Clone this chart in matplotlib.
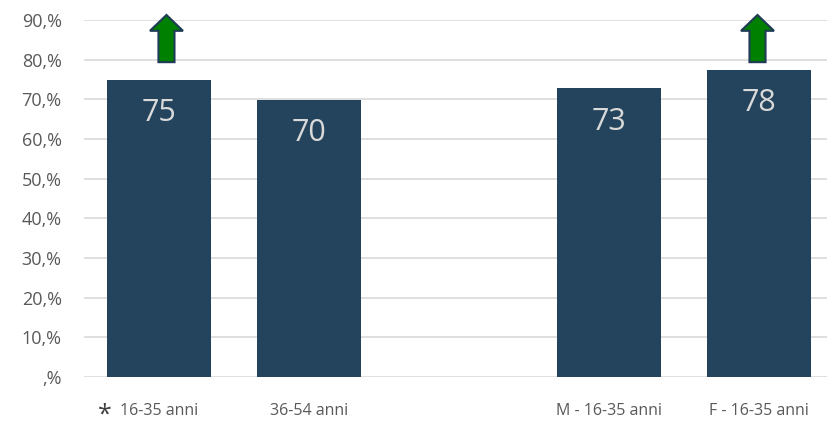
import matplotlib.pyplot as plt
from matplotlib.patches import FancyArrow

plt.rcParams['font.family'] = ['Open Sans', 'DejaVu Sans']

categories = ["16-35 anni", "36-54 anni", "M - 16-35 anni", "F - 16-35 anni"]
positions = [0, 1, 3, 4]
values = [74.9, 69.9, 72.8, 77.5]
labels = ["75", "70", "73", "78"]
arrow_on = [True, False, False, True]

bar_color = "#23445C"
fig = plt.figure(figsize=(8.28, 4.28), dpi=100)
ax = fig.add_axes([0.1014, 0.119, 0.8986, 0.834])

ax.bar(positions, values, width=0.69, color=bar_color, zorder=3)
for p, v, t in zip(positions, values, labels):
    ax.text(p, v - 4.6, t, ha="center", va="top", fontsize=22, color="#D9D9D9", zorder=4)

for p, on in zip(positions, arrow_on):
    if on:
        off = 0.05 if p == 0 else -0.01
        ax.add_patch(FancyArrow(p + off, 79.4, 0, 11.9, width=0.107, head_width=0.22,
                                head_length=4.0, length_includes_head=True,
                                facecolor="#008000", edgecolor="#1F3B55", linewidth=1.5,
                                clip_on=False, zorder=5))

ax.set_xlim(-0.5, 4.46)
ax.set_ylim(0, 90)
ax.set_yticks(range(0, 91, 10))
ax.set_yticklabels([f"{v},%" if v else ",%" for v in range(0, 91, 10)])
ax.set_xticks(positions)
ax.set_xticklabels(categories)
ax.tick_params(axis="y", length=0, labelsize=13, colors="#595959", pad=16)
ax.tick_params(axis="x", length=0, labelsize=11.5, colors="#595959", pad=19)
ax.grid(axis="y", color="#D9D9D9", linewidth=1.2, zorder=0)
for s in ax.spines.values():
    s.set_visible(False)

fig.text(105 / 828, 0.002, "*", fontsize=18, color="#404040", ha="center", va="bottom")

fig.savefig("out.png", dpi=100)
